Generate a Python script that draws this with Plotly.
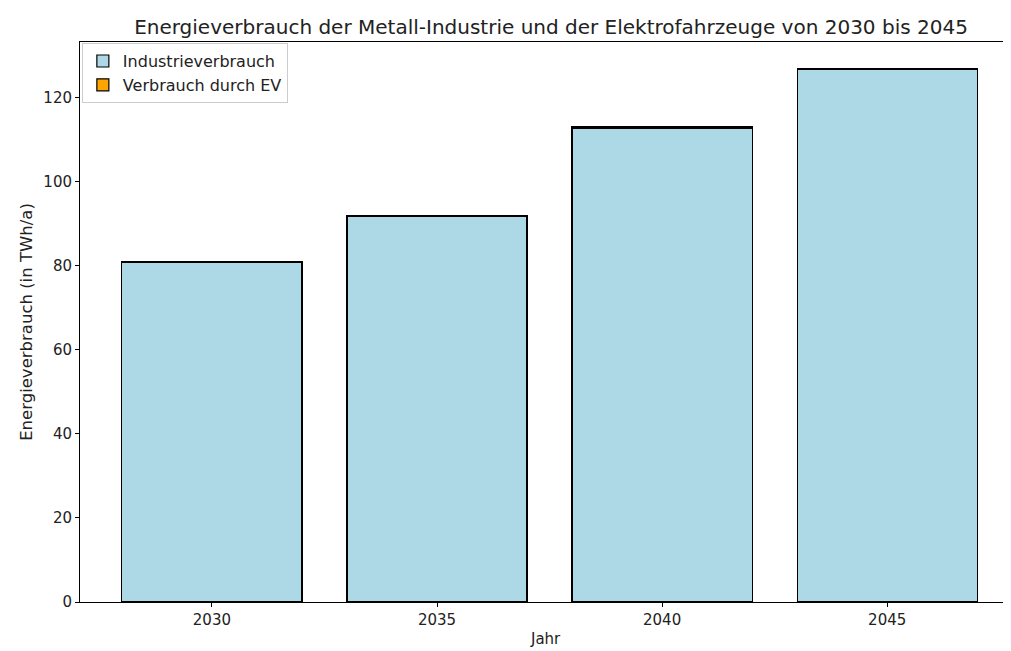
import plotly.graph_objects as go

years = [2030, 2035, 2040, 2045]
industrie = [80.8, 91.8, 112.8, 126.8]
ev = [0.25, 0.25, 0.25, 0.25]

font = "DejaVu Sans"

fig = go.Figure()
fig.add_trace(go.Bar(
    x=years, y=industrie, width=4, name="Industrieverbrauch",
    marker=dict(color="#ADD8E6", line=dict(color="black", width=1.2)),
))
fig.add_trace(go.Bar(
    x=years, y=ev, width=4, name="Verbrauch durch EV",
    marker=dict(color="orange", line=dict(color="black", width=1.2)),
))

W, H = 1003, 643
fig.update_layout(
    barmode="stack",
    width=W, height=H,
    margin=dict(l=72, r=0, t=34, b=49),
    paper_bgcolor="white", plot_bgcolor="white",
    font=dict(family=font, size=15, color="#222"),
    title=dict(
        text="Energieverbrauch der Metall-Industrie und der Elektrofahrzeuge von 2030 bis 2045",
        x=543 / W, xanchor="center", y=1 - 19 / H, yanchor="middle",
        font=dict(family=font, size=20, color="#222"),
    ),
    legend=dict(
        x=0.002, y=0.998, xanchor="left", yanchor="top",
        bordercolor="#ccc", borderwidth=1, bgcolor="rgba(255,255,255,0.8)",
        font=dict(family=font, size=16),
        tracegroupgap=0, traceorder="normal",
    ),
    xaxis=dict(
        range=[2027.07, 2047.75],
        tickvals=years, ticktext=[str(y) for y in years],
        showline=True, linecolor="black", linewidth=1, mirror=True,
        ticks="outside", ticklen=4, tickcolor="black",
        showgrid=False, zeroline=False, automargin=False,
    ),
    yaxis=dict(
        range=[0, 133.3],
        tickvals=[0, 20, 40, 60, 80, 100, 120],
        showline=True, linecolor="black", linewidth=1,
        ticks="outside", ticklen=4, tickcolor="black",
        showgrid=False, zeroline=False,
        title=dict(text="Energieverbrauch (in TWh/a)", font=dict(family=font, size=16.5), standoff=6),
    ),
    annotations=[dict(
        text="Jahr", xref="x domain", yref="y domain", x=0.5, y=-37 / 560,
        xanchor="center", yanchor="middle", showarrow=False,
        font=dict(family=font, size=15, color="#222"),
    )],
)

fig.write_html("out.html")
